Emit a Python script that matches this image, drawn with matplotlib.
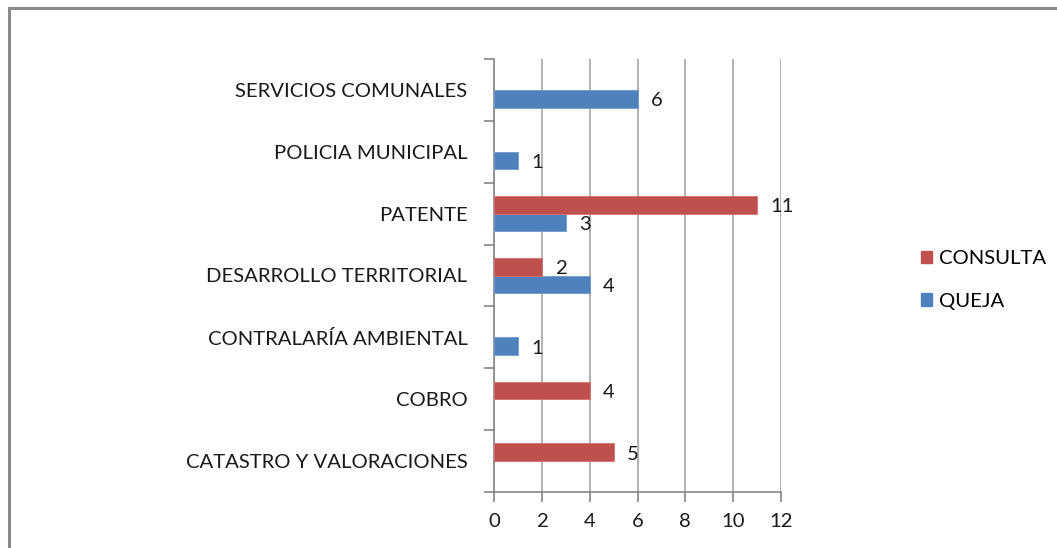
import matplotlib
matplotlib.use("Agg")
import matplotlib.pyplot as plt
import numpy as np
from matplotlib.patches import Rectangle

categories = ["CATASTRO Y VALORACIONES", "COBRO", "CONTRALARÍA AMBIENTAL",
              "DESARROLLO TERRITORIAL", "PATENTE", "POLICIA MUNICIPAL",
              "SERVICIOS COMUNALES"]
queja = [0, 0, 1, 4, 3, 1, 6]
consulta = [5, 4, 0, 2, 11, 0, 0]
x_ticks = [0, 2, 4, 6, 8, 10, 12]

BLUE = "#4F81BD"
RED = "#C0504D"
AX = "#868686"
GRID = "#A6A6A6"
FONT = "Lato"
FS = 14.6

plt.rcParams['font.family'] = [FONT, 'DejaVu Sans']

fig = plt.figure(figsize=(10.57, 5.48), dpi=100)
ax = fig.add_axes([494/1057, 56/548, (781-494)/1057, (492-59)/548])

n = len(categories)
y = np.arange(n)
h = 1/3.5
qb = ax.barh(y - h/2, queja, height=h, color=BLUE, edgecolor="#6f9ad0",
             linewidth=[0.6 if v else 0 for v in queja], zorder=3)
cb = ax.barh(y + h/2, consulta, height=h, color=RED, edgecolor="#d2716e",
             linewidth=[0.6 if v else 0 for v in consulta], zorder=3)

for bars, vals in ((qb, queja), (cb, consulta)):
    for b, v in zip(bars, vals):
        if v == 0:
            continue
        ax.annotate(str(v), (b.get_width(), b.get_y() + b.get_height()/2),
                    xytext=(13, -2), textcoords="offset pixels",
                    ha="left", va="center", fontsize=FS, color="#1a1a1a", zorder=4)

ax.set_xlim(0, 12)
ax.set_ylim(-0.5, n - 0.5)
ax.set_xticks(x_ticks)
ax.set_xticklabels([str(t) for t in x_ticks], fontsize=FS, color="#1a1a1a")
ax.set_yticks(np.arange(-0.5, n, 1.0))
ax.set_yticklabels([])
ax.set_yticks(y, minor=True)
ax.set_yticklabels(categories, minor=True, fontsize=FS, color="#1a1a1a")
ax.tick_params(axis='y', which='minor', length=0, pad=19)
ax.tick_params(axis='y', which='major', length=7, color=AX, width=1.2)
ax.tick_params(axis='x', length=7, color=AX, width=1.2, pad=8)

ax.grid(axis='x', color=GRID, linewidth=1.2, zorder=0)
for s in ("top", "right"):
    ax.spines[s].set_visible(False)
for s in ("left", "bottom"):
    ax.spines[s].set_color(AX)
    ax.spines[s].set_linewidth(1.2)

handles = [Rectangle((0, 0), 1, 1, color=RED), Rectangle((0, 0), 1, 1, color=BLUE)]
fig.legend(handles, ["CONSULTA", "QUEJA"], loc="center left",
           bbox_to_anchor=(903/1057, 1 - 280/548), frameon=False,
           fontsize=FS, handlelength=0.55, handleheight=0.55, handletextpad=0.35,
           labelspacing=1.25)

# outer chart border
fig.add_artist(Rectangle((9/1057, -0.05), 1.1, 1 - 8/548 + 0.05, transform=fig.transFigure,
                         fill=False, edgecolor="#8a8a8a", linewidth=2.2))

fig.savefig("out.png", dpi=100)
